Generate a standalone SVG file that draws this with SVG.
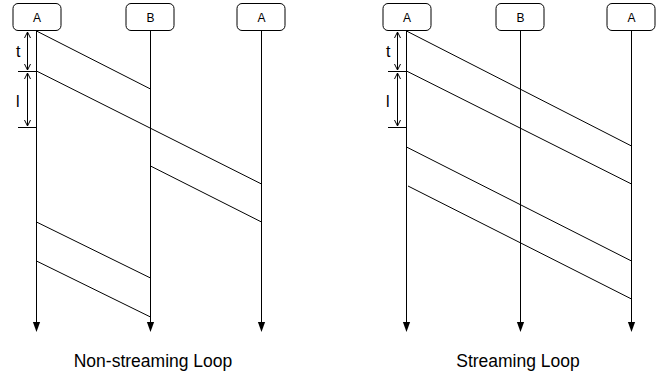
<svg xmlns="http://www.w3.org/2000/svg" width="665" height="378" viewBox="0 0 665 378">
<defs>
<style>
.box{fill:#fff;stroke:#000;stroke-width:1}
.lbl{font-family:"Liberation Sans",Arial,sans-serif;font-size:12px;text-anchor:middle;fill:#000}
.ln{stroke:#000;stroke-width:1;fill:none}
.dim{stroke:#000;stroke-width:1;fill:none}
.ann{font-family:"Liberation Sans",Arial,sans-serif;font-size:16px;fill:#000}
.cap{font-family:"Liberation Sans",Arial,sans-serif;font-size:17.5px;text-anchor:middle;fill:#000}
</style>
</defs>
<rect width="665" height="378" fill="#fff"/>

<g id="connectors">
<!-- lifelines left -->
<line class="ln" x1="36.5" y1="31" x2="36.5" y2="322"/>
<path d="M32.9,322 L40.1,322 L36.5,332 Z" fill="#000"/>
<line class="ln" x1="150.5" y1="31" x2="150.5" y2="322"/>
<path d="M146.9,322 L154.1,322 L150.5,332 Z" fill="#000"/>
<line class="ln" x1="261.5" y1="31" x2="261.5" y2="322"/>
<path d="M257.9,322 L265.1,322 L261.5,332 Z" fill="#000"/>
<!-- messages left -->
<line class="ln" x1="36.5" y1="31" x2="150.5" y2="89"/>
<line class="ln" x1="36.5" y1="71" x2="261.5" y2="184"/>
<line class="ln" x1="150.5" y1="166" x2="261.5" y2="222"/>
<line class="ln" x1="36.5" y1="222" x2="150.5" y2="278"/>
<line class="ln" x1="36.5" y1="261" x2="150.5" y2="317"/>

<!-- lifelines right -->
<line class="ln" x1="406.5" y1="31" x2="406.5" y2="322"/>
<path d="M402.9,322 L410.1,322 L406.5,332 Z" fill="#000"/>
<line class="ln" x1="520.5" y1="31" x2="520.5" y2="322"/>
<path d="M516.9,322 L524.1,322 L520.5,332 Z" fill="#000"/>
<line class="ln" x1="631.5" y1="31" x2="631.5" y2="322"/>
<path d="M627.9,322 L635.1,322 L631.5,332 Z" fill="#000"/>
<!-- messages right -->
<line class="ln" x1="406.5" y1="31" x2="631.5" y2="146"/>
<line class="ln" x1="406.5" y1="71" x2="631.5" y2="184"/>
<line class="ln" x1="406.5" y1="147" x2="631.5" y2="261"/>
<line class="ln" x1="408" y1="186" x2="631.5" y2="299"/>
</g>

<g id="dims-left">
<line class="dim" x1="18" y1="71.5" x2="36.5" y2="71.5"/>
<line class="dim" x1="18" y1="127.5" x2="36.5" y2="127.5"/>
<line class="dim" x1="27.5" y1="32" x2="27.5" y2="70"/>
<path class="dim" d="M24.5,38 L27.5,32 L30.5,38 M24.5,64 L27.5,70 L30.5,64"/>
<line class="dim" x1="27.5" y1="73" x2="27.5" y2="126"/>
<path class="dim" d="M24.5,79 L27.5,73 L30.5,79 M24.5,120 L27.5,126 L30.5,120"/>
<text class="ann" x="16" y="57">t</text>
<text class="ann" x="16" y="107">l</text>
</g>
<g id="dims-right">
<line class="dim" x1="388" y1="71.5" x2="406.5" y2="71.5"/>
<line class="dim" x1="388" y1="127.5" x2="406.5" y2="127.5"/>
<line class="dim" x1="397.5" y1="32" x2="397.5" y2="70"/>
<path class="dim" d="M394.5,38 L397.5,32 L400.5,38 M394.5,64 L397.5,70 L400.5,64"/>
<line class="dim" x1="397.5" y1="73" x2="397.5" y2="126"/>
<path class="dim" d="M394.5,79 L397.5,73 L400.5,79 M394.5,120 L397.5,126 L400.5,120"/>
<text class="ann" x="386" y="57">t</text>
<text class="ann" x="386" y="107">l</text>
</g>

<g id="node-left-A1"><rect class="box" x="13" y="3.5" width="48" height="27" rx="5"/><text class="lbl" x="37" y="21.5">A</text></g>
<g id="node-left-B"><rect class="box" x="126" y="3.5" width="48" height="27" rx="5"/><text class="lbl" x="150.5" y="21.5">B</text></g>
<g id="node-left-A2"><rect class="box" x="237" y="3.5" width="48" height="27" rx="5"/><text class="lbl" x="261.5" y="21.5">A</text></g>
<g id="node-right-A1"><rect class="box" x="383" y="3.5" width="48" height="27" rx="5"/><text class="lbl" x="407" y="21.5">A</text></g>
<g id="node-right-B"><rect class="box" x="496" y="3.5" width="48" height="27" rx="5"/><text class="lbl" x="520.5" y="21.5">B</text></g>
<g id="node-right-A2"><rect class="box" x="607" y="3.5" width="48" height="27" rx="5"/><text class="lbl" x="631.5" y="21.5">A</text></g>

<g id="captions">
<text class="cap" x="153" y="367">Non-streaming Loop</text>
<text class="cap" x="518" y="367">Streaming Loop</text>
</g>
</svg>
